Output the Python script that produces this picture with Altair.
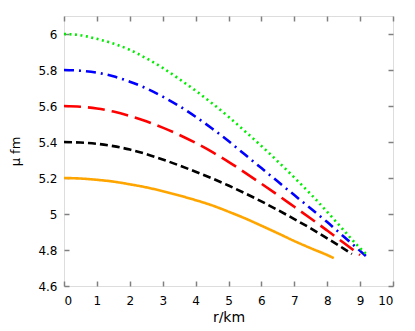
import altair as alt
import pandas as pd

# series names
series = ["orange", "black", "red", "blue", "green"]
colors = ["#ffa500", "#000000", "#ff0000", "#0000ff", "#00ee00"]
dashes = [[1, 0], [8, 4], [17, 7], [10, 5, 2, 5], [2, 3.5]]

r_orange = [0, 0.5, 1, 1.5, 2, 2.5, 3, 3.5, 4, 4.5, 5, 5.5, 6, 6.5, 7, 7.5, 8, 8.2]
mu_orange = [5.2, 5.197, 5.19, 5.18, 5.165, 5.148, 5.127, 5.103, 5.077, 5.048, 5.013, 4.976,
             4.935, 4.893, 4.85, 4.81, 4.772, 4.755]

r_black = [0, 0.5, 1, 1.5, 2, 2.5, 3, 3.5, 4, 4.5, 5, 5.5, 6, 6.5, 7, 7.5, 8, 8.5, 8.75]
mu_black = [5.4, 5.397, 5.39, 5.377, 5.358, 5.333, 5.303, 5.27, 5.235, 5.198, 5.158, 5.115,
            5.07, 5.022, 4.972, 4.92, 4.865, 4.808, 4.778]

r_red = [0, 0.5, 1, 1.5, 2, 2.5, 3, 3.5, 4, 4.5, 5, 5.5, 6, 6.5, 7, 7.5, 8, 8.5, 9.0]
mu_red = [5.6, 5.596, 5.586, 5.569, 5.545, 5.515, 5.48, 5.44, 5.395, 5.345, 5.29, 5.23,
          5.168, 5.105, 5.04, 4.975, 4.908, 4.84, 4.772]

r_blue = [0, 0.5, 1, 1.5, 2, 2.5, 3, 3.5, 4, 4.5, 5, 5.5, 6, 6.5, 7, 7.5, 8, 8.5, 9, 9.2]
mu_blue = [5.8, 5.796, 5.785, 5.765, 5.735, 5.698, 5.652, 5.6, 5.54, 5.475, 5.405, 5.33,
           5.255, 5.18, 5.105, 5.03, 4.955, 4.875, 4.795, 4.762]

r_green = [0, 0.5, 1, 1.5, 2, 2.5, 3, 3.5, 4, 4.5, 5, 5.5, 6, 6.5, 7, 7.5, 8, 8.5, 9, 9.2]
mu_green = [6.0, 5.993, 5.973, 5.947, 5.912, 5.865, 5.812, 5.75, 5.685, 5.615, 5.54, 5.46,
            5.378, 5.292, 5.203, 5.11, 5.012, 4.91, 4.81, 4.775]

x_ticks = [0, 1, 2, 3, 4, 5, 6, 7, 8, 9, 10]
y_ticks = [4.6, 4.8, 5.0, 5.2, 5.4, 5.6, 5.8, 6.0]

rows = []
for name, rs, ms in [("orange", r_orange, mu_orange), ("black", r_black, mu_black),
                     ("red", r_red, mu_red), ("blue", r_blue, mu_blue),
                     ("green", r_green, mu_green)]:
    for r, m in zip(rs, ms):
        rows.append({"series": name, "r": r, "mu": m})
df = pd.DataFrame(rows)

FONT = "DejaVu Sans"
GRAY = "#808080"

xscale = alt.Scale(domain=[0, 10], nice=False, zero=False)
yscale = alt.Scale(domain=[4.6, 6.1], nice=False, zero=False)

x_bottom = alt.Axis(orient="bottom", values=x_ticks, offset=-5, tickSize=5, domain=False,
                    grid=False, labelPadding=9, title="r/km", titlePadding=4,
                    tickColor=GRAY, tickWidth=1.5, labelFontSize=12, titleFontSize=14,
                    labelFont=FONT, titleFont=FONT, titleFontWeight="normal",
                    labelColor="#000000", titleColor="#000000")
y_left = alt.Axis(orient="left", values=y_ticks, offset=-5, tickSize=5, domain=False,
                  grid=False, labelPadding=7, title="μ fm", titlePadding=15,
                  format="~g", tickColor=GRAY, tickWidth=1.5, labelFontSize=12,
                  titleFontSize=13, labelFont=FONT, titleFont=FONT,
                  titleFontWeight="normal", labelColor="#000000", titleColor="#000000")
x_top = alt.Axis(orient="top", values=x_ticks, offset=-5, tickSize=5, domain=False,
                 grid=False, labels=False, title=None, tickColor=GRAY, tickWidth=1.5)
y_right = alt.Axis(orient="right", values=y_ticks, offset=-5, tickSize=5, domain=False,
                   grid=False, labels=False, title=None, tickColor=GRAY, tickWidth=1.5)

lines = alt.Chart(df).mark_line(strokeWidth=2.6, interpolate="monotone").encode(
    x=alt.X("r:Q", scale=xscale, axis=x_bottom),
    y=alt.Y("mu:Q", scale=yscale, axis=y_left),
    color=alt.Color("series:N", scale=alt.Scale(domain=series, range=colors), legend=None),
    strokeDash=alt.StrokeDash("series:N", scale=alt.Scale(domain=series, range=dashes),
                              legend=None),
    detail="series:N",
)

mirror = alt.Chart(df).mark_line(opacity=0).encode(
    x=alt.X("r:Q", scale=xscale, axis=x_top),
    y=alt.Y("mu:Q", scale=yscale, axis=y_right),
    detail="series:N",
)

chart = alt.layer(lines, mirror).resolve_axis(x="independent", y="independent").properties(
    width=329, height=270,
    autosize=alt.AutoSizeParams(type="none"),
    padding={"left": 56, "top": 8, "right": 14, "bottom": 37},
).configure_view(stroke=GRAY, strokeWidth=1.5).configure(background="white")

chart.save("out.html", embed_options={"renderer": "svg", "actions": False})
